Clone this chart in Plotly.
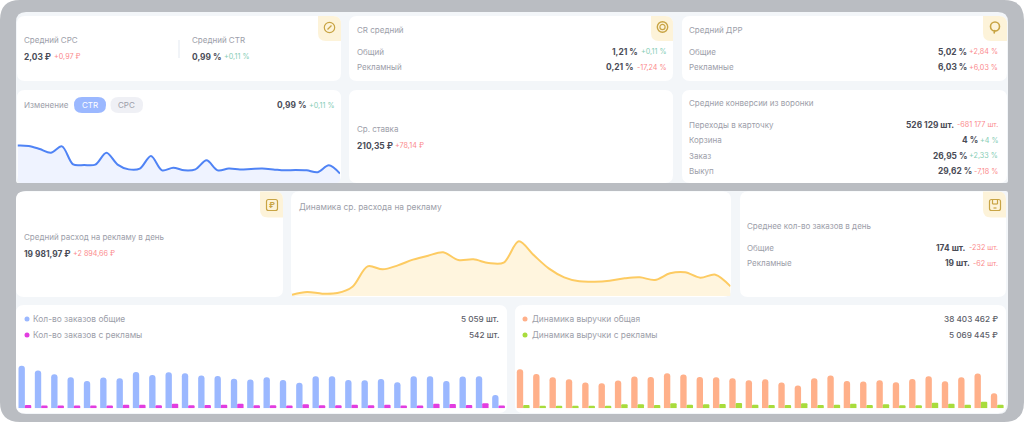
# Панель рекламной статистики: карточки KPI, две линии и два столбчатых графика
import plotly.graph_objects as go

W, H = 1024, 423
FONT = "Inter"

GRAY = "#9c9ea9"
DARK = "#4a4c57"
RED = "#fb8a8c"
GREEN = "#86cdb5"
GOLD = "#c8a444"
TAB = "#fdf3d9"
PANEL = "#f3f6f9"

days = list(range(1, 31))

# Данные
ctr = [1.95, 1.93, 1.77, 1.58, 1.91, 0.97, 0.94, 0.96, 1.58, 0.96, 0.71, 0.75, 1.41, 0.66, 0.80,
       0.66, 0.71, 1.18, 0.66, 0.75, 0.71, 0.73, 0.75, 0.71, 0.66, 0.68, 0.66, 0.56, 0.92, 0.49]
spend = [1142, 3426, 1999, 2570, 7994, 25410, 22840, 26266, 31120, 34546, 37400, 30834, 31405, 28265, 28550,
         46822, 34831, 23411, 15988, 12562, 12277, 13133, 15132, 15988, 13704, 19414, 20271, 15703, 18272, 8280]
orders_total = [233, 206, 186, 169, 149, 168, 164, 198, 182, 197, 191, 179, 176, 162, 157,
                169, 155, 140, 175, 175, 155, 153, 160, 142, 175, 175, 149, 173, 175, 73]
orders_ads = [18, 15, 15, 15, 15, 15, 20, 20, 16, 25, 16, 18, 20, 25, 16,
              16, 15, 22, 16, 16, 20, 16, 20, 15, 15, 25, 24, 18, 27, 15]
revenue_total = [1700, 1495, 1352, 1264, 1120, 1090, 1208, 1382, 1365, 1526, 1469, 1365, 1352, 1308, 1221,
                 1264, 1120, 990, 1308, 1426, 1190, 1164, 1221, 1134, 1277, 1395, 1177, 1352, 1513, 654]
revenue_ads = [145, 116, 116, 116, 116, 116, 174, 174, 145, 218, 160, 174, 189, 233, 160,
               145, 145, 218, 145, 160, 203, 145, 174, 131, 131, 247, 203, 160, 291, 160]

# Подписи: текст, x, y
gray_labels = [
    ("Средний CPC", 24, 40.5), ("Средний CTR", 191.5, 40.5), ("Изменение", 24, 105.5),
    ("CR средний", 356.5, 30), ("Общий", 356.5, 52), ("Рекламный", 356.5, 67),
    ("Ср. ставка", 356.5, 128.5), ("Средний ДРР", 689, 30), ("Общие", 689, 52), ("Рекламные", 689, 67),
    ("Средние конверсии из воронки", 689, 103), ("Переходы в карточку", 689, 125), ("Корзина", 689, 140),
    ("Заказ", 689, 155.5), ("Выкуп", 689, 171), ("Средний расход на рекламу в день", 24, 236.5),
    ("Среднее кол-во заказов в день", 747, 226), ("Общие", 747, 248), ("Рекламные", 747, 263),
]
chart_labels = [
    ("Динамика ср. расхода на рекламу", 298.5, 207), ("Кол-во заказов общие", 33, 319),
    ("Кол-во заказов с рекламы", 33, 335), ("Динамика выручки общая", 532, 319),
    ("Динамика выручки с рекламы", 532, 335),
]
# значение слева и дельта после него
left_values = [
    ("2,03 ₽", 24, 57, "+0,97 ₽", 54, RED), ("0,99 %", 192, 57, "+0,11 %", 224, GREEN),
    ("210,35 ₽", 356.5, 145.5, "+78,14 ₽", 395, RED), ("19 981,97 ₽", 24, 253.5, "+2 894,66 ₽", 73, RED),
]
# значение с правым краем, дельта с правым краем
right_values = [
    ("0,99 %", 305.5, 105, "+0,11 %", 333.5, GREEN),
    ("1,21 %", 638.3, 52, "+0,11 %", 666, GREEN), ("0,21 %", 634, 67, "-17,24 %", 666, RED),
    ("5,02 %", 966.7, 52, "+2,84 %", 998, RED), ("6,03 %", 966.5, 67, "+6,03 %", 998, RED),
    ("526 129 шт.", 954.3, 125, "-681 177 шт.", 998, RED), ("4 %", 978.3, 140, "+4 %", 998, GREEN),
    ("26,95 %", 967.3, 155.5, "+2,33 %", 998, GREEN), ("29,62 %", 971.7, 171, "-7,18 %", 998, RED),
    ("174 шт.", 966, 248, "-232 шт.", 998.3, RED), ("19 шт.", 970, 263, "-62 шт.", 998.3, RED),
]
totals = [("5 059 шт.", 499.3, 319), ("542 шт.", 499.3, 335), ("38 403 462 ₽", 998.3, 319), ("5 069 445 ₽", 998.3, 335)]


def px(x):
    return x / W


def py(y):
    return 1 - y / H


def rounded(x0, y0, x1, y1, tl=8, tr=8, br=8, bl=8):
    pts = [
        f"M{px(x0 + tl)},{py(y0)}", f"L{px(x1 - tr)},{py(y0)}", f"Q{px(x1)},{py(y0)} {px(x1)},{py(y0 + tr)}",
        f"L{px(x1)},{py(y1 - br)}", f"Q{px(x1)},{py(y1)} {px(x1 - br)},{py(y1)}",
        f"L{px(x0 + bl)},{py(y1)}", f"Q{px(x0)},{py(y1)} {px(x0)},{py(y1 - bl)}",
        f"L{px(x0)},{py(y0 + tl)}", f"Q{px(x0)},{py(y0)} {px(x0 + tl)},{py(y0)}", "Z",
    ]
    return " ".join(pts)


shapes = []
annotations = []


def box(x0, y0, x1, y1, color, line=None, **radii):
    shapes.append(dict(type="path", xref="paper", yref="paper", path=rounded(x0, y0, x1, y1, **radii),
                       fillcolor=color, line=dict(width=1.2 if line else 0, color=line or color), layer="below"))


def circle(cx, cy, r, fill=None, line=None, width=1.2):
    shapes.append(dict(type="circle", xref="paper", yref="paper", x0=px(cx - r), x1=px(cx + r),
                       y0=py(cy + r), y1=py(cy - r), fillcolor=fill or "rgba(0,0,0,0)",
                       line=dict(width=width if line else 0, color=line or "rgba(0,0,0,0)"), layer="below"))


def seg(x0, y0, x1, y1, color, width=1.2):
    shapes.append(dict(type="line", xref="paper", yref="paper", x0=px(x0), x1=px(x1), y0=py(y0), y1=py(y1),
                       line=dict(width=width, color=color), layer="below"))


def corner_mask(x, y, dx, r, color):
    # скругляет нижний угол карточки поверх заливки графика
    path = f"M{px(x)},{py(y - r)} Q{px(x)},{py(y)} {px(x + dx * r)},{py(y)} L{px(x)},{py(y)} Z"
    shapes.append(dict(type="path", xref="paper", yref="paper", path=path, fillcolor=color,
                       line=dict(width=0), layer="above"))


def text(s, x, y, color=GRAY, size=8, weight=400, anchor="left"):
    # у подписи plotly есть запас в 1 px по краю
    shift = {"left": -1, "right": 1, "center": 0}[anchor]
    annotations.append(dict(text=s, x=px(x + shift), y=py(y), xref="paper", yref="paper", showarrow=False,
                            xanchor=anchor, yanchor="middle", borderpad=0,
                            font=dict(family=FONT, size=size, color=color, weight=weight)))


# Фон и рамка
box(0, 0, 1024, 422, "#babdc2", tl=20, tr=20, br=20, bl=20)
box(16, 12, 1008, 183, PANEL, tl=10, tr=10, br=2, bl=2)
box(16, 191, 1008, 414, PANEL, tl=10, tr=2, br=10, bl=10)

# Карточки
cards = [(17, 16, 341, 81), (349, 16, 673, 81), (682, 16, 1007, 81),
         (17, 90, 341, 183), (349, 90, 673, 183), (682, 90, 1007, 183),
         (16, 191.5, 283, 297), (291, 191.5, 731, 297), (740, 191.5, 1006, 297),
         (16, 305, 507, 413), (515, 305, 1006, 413)]
for c in cards:
    box(*c, "#ffffff")
corner_mask(17, 183, 1, 6, PANEL)
corner_mask(341, 183, -1, 6, PANEL)

# Вкладки с иконками
tabs = [(318, 16, 341, 41), (651, 16, 673, 41), (983, 16, 1007, 41), (260, 191.5, 283, 217.5), (983, 191.5, 1006, 217.5)]
for t in tabs:
    box(*t, TAB, tl=0, tr=8, br=0, bl=8)

circle(329.5, 27.5, 5.2, line=GOLD)
seg(327.5, 29.5, 331.5, 25.5, GOLD)
circle(662.5, 27, 5.2, line=GOLD, width=1.4)
circle(662.5, 27, 2.6, line=GOLD)
circle(995, 26.5, 4.5, line=GOLD, width=1.6)
circle(995, 27, 1.6, fill=TAB)
seg(995, 30, 994, 33.5, GOLD, 1.6)
box(266.5, 199.5, 277.5, 210.5, "rgba(0,0,0,0)", line=GOLD, tl=2, tr=2, br=2, bl=2)
text("₽", 272, 205, color=GOLD, size=8, weight=700, anchor="center")
box(989.5, 199.5, 1000.5, 210.5, "rgba(0,0,0,0)", line=GOLD, tl=2, tr=2, br=2, bl=2)
seg(992.5, 204, 997.5, 204, GOLD)
seg(992.5, 199.5, 992.5, 204, GOLD)
seg(997.5, 199.5, 997.5, 204, GOLD)
seg(993.5, 208, 996.5, 208, GOLD)

# Разделитель и переключатель
seg(179, 40, 179, 58, "#e8edf3")
box(74, 97, 106, 113, "#9bb8ff", tl=8, tr=8, br=8, bl=8)
box(110.5, 97, 143, 113, "#eff0f5", tl=8, tr=8, br=8, bl=8)
text("CTR", 90, 105.5, color="#ffffff", anchor="center")
text("CPC", 126.7, 105.5, anchor="center")

# Маркеры легенд
circle(27, 319, 2.5, fill="#9bb8ff")
circle(27, 335, 2.5, fill="#e23de0")
circle(525, 319, 2.5, fill="#ffb08a")
circle(525, 335, 2.5, fill="#a8dc3c")

for s, x, y in gray_labels:
    text(s, x, y)
for s, x, y in chart_labels:
    text(s, x, y, size=8.4)
for v, x, y, d, dx, col in left_values:
    text(v, x, y, color=DARK, size=8.4, weight=700)
    text(d, dx, y, color=col, size=7.2)
for v, x, y, d, dx, col in right_values:
    text(v, x, y, color=DARK, size=8.4, weight=700, anchor="right")
    text(d, dx, y, color=col, size=7.2, anchor="right")
for s, x, y in totals:
    text(s, x, y, color="#5c5e69", size=8.2, weight=500, anchor="right")

fig = go.Figure()
fig.add_trace(go.Scatter(x=days, y=ctr, mode="lines", line=dict(color="#4f83f5", width=2, shape="spline", smoothing=0.9),
                         fill="tozeroy", fillcolor="#eff3ff", xaxis="x", yaxis="y"))
fig.add_trace(go.Scatter(x=days, y=spend, mode="lines", line=dict(color="#fdcb62", width=2, shape="spline", smoothing=0.9),
                         fill="tozeroy", fillcolor="#fff5de", xaxis="x2", yaxis="y2"))
fig.add_trace(go.Bar(x=days, y=orders_total, marker=dict(color="#9bb8ff", line_width=0, cornerradius=3), xaxis="x3", yaxis="y3"))
fig.add_trace(go.Bar(x=days, y=orders_ads, marker=dict(color="#e23de0", line_width=0, cornerradius=1.5), xaxis="x3", yaxis="y3"))
fig.add_trace(go.Bar(x=days, y=revenue_total, marker=dict(color="#ffb08a", line_width=0, cornerradius=3), xaxis="x4", yaxis="y4"))
fig.add_trace(go.Bar(x=days, y=revenue_ads, marker=dict(color="#a8dc3c", line_width=0, cornerradius=1.5), xaxis="x4", yaxis="y4"))


def x_axis(x0, x1, lo, hi, anchor):
    return dict(domain=[px(x0), px(x1)], range=[lo, hi], visible=False, anchor=anchor, fixedrange=True)


def y_axis(y_top, y_bottom, hi, anchor):
    return dict(domain=[py(y_bottom), py(y_top)], range=[0, hi], visible=False, anchor=anchor, fixedrange=True)


fig.update_layout(
    width=W, height=H, margin=dict(l=0, r=0, t=0, b=0),
    paper_bgcolor="#ffffff", plot_bgcolor="rgba(0,0,0,0)",
    showlegend=False, barmode="group", bargap=0.22, bargroupgap=0,
    font=dict(family=FONT),
    xaxis=x_axis(17.5, 340, 1, 30, "y"), yaxis=y_axis(113, 183, 3.65, "x"),
    xaxis2=x_axis(292, 730.5, 1, 30, "y2"), yaxis2=y_axis(196, 296, 85650, "x2"),
    xaxis3=x_axis(16.7, 506.7, 0.5, 30.5, "y3"), yaxis3=y_axis(340, 408.3, 373, "x3"),
    xaxis4=x_axis(515, 1005.4, 0.5, 30.5, "y4"), yaxis4=y_axis(340, 408.3, 2978, "x4"),
    shapes=shapes, annotations=annotations,
)

fig.write_html("out.html", config={"displayModeBar": False},
               post_script="document.body.style.margin='0';document.body.style.overflow='hidden';")
